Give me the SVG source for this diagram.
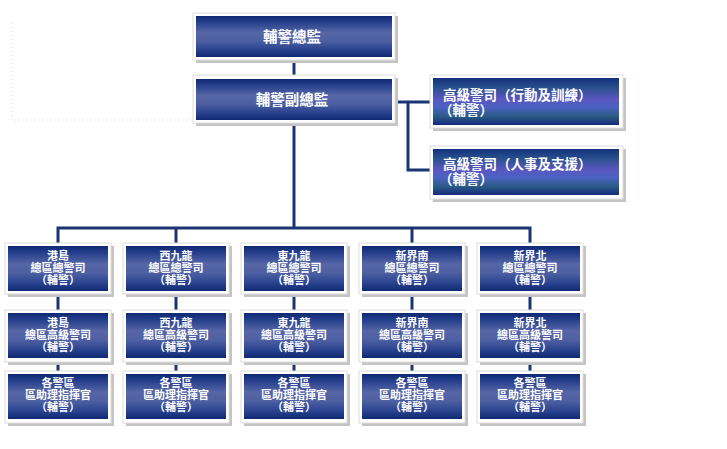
<svg xmlns="http://www.w3.org/2000/svg" width="727" height="449" viewBox="0 0 727 449">
<defs>
<linearGradient id="gBlue" x1="0" y1="0" x2="0" y2="1">
<stop offset="0" stop-color="#0e2872"/>
<stop offset="0.12" stop-color="#1f3a88"/>
<stop offset="0.4" stop-color="#5666a6"/>
<stop offset="0.6" stop-color="#4e60a2"/>
<stop offset="0.82" stop-color="#2a438f"/>
<stop offset="1" stop-color="#0e2872"/>
</linearGradient>
<linearGradient id="gPurple" x1="0" y1="0" x2="0" y2="1">
<stop offset="0" stop-color="#14307e"/>
<stop offset="0.2" stop-color="#28508c"/>
<stop offset="0.45" stop-color="#5a56c0"/>
<stop offset="0.62" stop-color="#4a62c2"/>
<stop offset="0.82" stop-color="#2a5a84"/>
<stop offset="1" stop-color="#142a7e"/>
</linearGradient>
<style>
.sh{fill:#c4c4c4;}
.fr{fill:#ffffff;stroke:#dcdcdc;stroke-width:1;}
.in{fill:url(#gBlue);}
.inp{fill:url(#gPurple);}
.t{font-family:"Liberation Sans","Noto Sans CJK TC",sans-serif;font-weight:bold;fill:#ffffff;}
.big{font-size:14.5px;text-anchor:middle;}
.mid{font-size:13.5px;}
.sm{font-size:11px;text-anchor:middle;}
.c{fill:none;stroke:#1b3474;stroke-width:3;}
.dot{fill:none;stroke-width:1;stroke-dasharray:1 3;}
</style>
</defs>
<rect width="727" height="449" fill="#ffffff"/>
<g id="faint">
<path class="dot" d="M12,23 V120 H193" stroke="#e2d4e2"/>
<path class="dot" d="M638,77 V198" stroke="#f2f0c8"/>
<path class="dot" d="M432,200 H620" stroke="#c8ecc0"/>
</g>
<g id="connectors">
<path class="c" d="M294,60 V75"/>
<path class="c" d="M294,123 V228"/>
<path class="c" d="M395,102 H430"/>
<path class="c" d="M408,102 V170 H430"/>
<path class="c" d="M58,243 V228 H530 V243"/>
<path class="c" d="M176,228 V243 M412,228 V243"/>
<path class="c" d="M58,294 V310 M176,294 V310 M294,294 V310 M412,294 V310 M530,294 V310"/>
<path class="c" d="M58,362 V371 M176,362 V371 M294,362 V371 M412,362 V371 M530,362 V371"/>
</g>
<g id="n-chief">
<rect class="sh" x="196" y="16" width="202" height="47"/>
<rect class="fr" x="193" y="13" width="202" height="47"/>
<rect class="in" x="196" y="16" width="196" height="41"/>
<text class="t big" x="292" y="42">輔警總監</text>
</g>
<g id="n-deputy">
<rect class="sh" x="196" y="78" width="202" height="48"/>
<rect class="fr" x="193" y="75" width="202" height="48"/>
<rect class="in" x="196" y="79" width="196" height="41"/>
<text class="t big" x="292" y="105">輔警副總監</text>
</g>
<g id="n-ops">
<rect class="sh" x="433" y="78" width="193" height="53"/>
<rect class="fr" x="430" y="75" width="193" height="53"/>
<rect class="inp" x="433" y="78" width="186" height="47"/>
<text class="t mid" x="443" y="100">高級警司（行動及訓練）</text>
<text class="t mid" x="439" y="115">（輔警）</text>
</g>
<g id="n-pers">
<rect class="sh" x="433" y="149" width="193" height="53"/>
<rect class="fr" x="430" y="146" width="193" height="53"/>
<rect class="inp" x="433" y="149" width="186" height="46"/>
<text class="t mid" x="443" y="169">高級警司（人事及支援）</text>
<text class="t mid" x="439" y="184">（輔警）</text>
</g>
<g id="n-hki-1">
<rect class="sh" x="8" y="246" width="106" height="51"/><rect class="fr" x="5" y="243" width="106" height="51"/><rect class="in" x="8" y="246" width="100" height="45"/>
<text class="t sm" x="58" y="260">港島</text><text class="t sm" x="58" y="272">總區總警司</text><text class="t sm" x="58" y="284">（輔警）</text>
</g>
<g id="n-kw-1">
<rect class="sh" x="126" y="246" width="106" height="51"/><rect class="fr" x="123" y="243" width="106" height="51"/><rect class="in" x="126" y="246" width="100" height="45"/>
<text class="t sm" x="176" y="260">西九龍</text><text class="t sm" x="176" y="272">總區總警司</text><text class="t sm" x="176" y="284">（輔警）</text>
</g>
<g id="n-ke-1">
<rect class="sh" x="244" y="246" width="106" height="51"/><rect class="fr" x="241" y="243" width="106" height="51"/><rect class="in" x="244" y="246" width="100" height="45"/>
<text class="t sm" x="294" y="260">東九龍</text><text class="t sm" x="294" y="272">總區總警司</text><text class="t sm" x="294" y="284">（輔警）</text>
</g>
<g id="n-nts-1">
<rect class="sh" x="362" y="246" width="106" height="51"/><rect class="fr" x="359" y="243" width="106" height="51"/><rect class="in" x="362" y="246" width="100" height="45"/>
<text class="t sm" x="412" y="260">新界南</text><text class="t sm" x="412" y="272">總區總警司</text><text class="t sm" x="412" y="284">（輔警）</text>
</g>
<g id="n-ntn-1">
<rect class="sh" x="480" y="246" width="106" height="51"/><rect class="fr" x="477" y="243" width="106" height="51"/><rect class="in" x="480" y="246" width="100" height="45"/>
<text class="t sm" x="530" y="260">新界北</text><text class="t sm" x="530" y="272">總區總警司</text><text class="t sm" x="530" y="284">（輔警）</text>
</g>
<g id="n-hki-2">
<rect class="sh" x="8" y="313" width="106" height="52"/><rect class="fr" x="5" y="310" width="106" height="52"/><rect class="in" x="8" y="313" width="100" height="45"/>
<text class="t sm" x="58" y="327">港島</text><text class="t sm" x="58" y="339">總區高級警司</text><text class="t sm" x="58" y="351">（輔警）</text>
</g>
<g id="n-kw-2">
<rect class="sh" x="126" y="313" width="106" height="52"/><rect class="fr" x="123" y="310" width="106" height="52"/><rect class="in" x="126" y="313" width="100" height="45"/>
<text class="t sm" x="176" y="327">西九龍</text><text class="t sm" x="176" y="339">總區高級警司</text><text class="t sm" x="176" y="351">（輔警）</text>
</g>
<g id="n-ke-2">
<rect class="sh" x="244" y="313" width="106" height="52"/><rect class="fr" x="241" y="310" width="106" height="52"/><rect class="in" x="244" y="313" width="100" height="45"/>
<text class="t sm" x="294" y="327">東九龍</text><text class="t sm" x="294" y="339">總區高級警司</text><text class="t sm" x="294" y="351">（輔警）</text>
</g>
<g id="n-nts-2">
<rect class="sh" x="362" y="313" width="106" height="52"/><rect class="fr" x="359" y="310" width="106" height="52"/><rect class="in" x="362" y="313" width="100" height="45"/>
<text class="t sm" x="412" y="327">新界南</text><text class="t sm" x="412" y="339">總區高級警司</text><text class="t sm" x="412" y="351">（輔警）</text>
</g>
<g id="n-ntn-2">
<rect class="sh" x="480" y="313" width="106" height="52"/><rect class="fr" x="477" y="310" width="106" height="52"/><rect class="in" x="480" y="313" width="100" height="45"/>
<text class="t sm" x="530" y="327">新界北</text><text class="t sm" x="530" y="339">總區高級警司</text><text class="t sm" x="530" y="351">（輔警）</text>
</g>
<g id="n-hki-3">
<rect class="sh" x="8" y="374" width="106" height="52"/><rect class="fr" x="5" y="371" width="106" height="52"/><rect class="in" x="8" y="374" width="100" height="45"/>
<text class="t sm" x="58" y="387">各警區</text><text class="t sm" x="58" y="399">區助理指揮官</text><text class="t sm" x="58" y="411">（輔警）</text>
</g>
<g id="n-kw-3">
<rect class="sh" x="126" y="374" width="106" height="52"/><rect class="fr" x="123" y="371" width="106" height="52"/><rect class="in" x="126" y="374" width="100" height="45"/>
<text class="t sm" x="176" y="387">各警區</text><text class="t sm" x="176" y="399">區助理指揮官</text><text class="t sm" x="176" y="411">（輔警）</text>
</g>
<g id="n-ke-3">
<rect class="sh" x="244" y="374" width="106" height="52"/><rect class="fr" x="241" y="371" width="106" height="52"/><rect class="in" x="244" y="374" width="100" height="45"/>
<text class="t sm" x="294" y="387">各警區</text><text class="t sm" x="294" y="399">區助理指揮官</text><text class="t sm" x="294" y="411">（輔警）</text>
</g>
<g id="n-nts-3">
<rect class="sh" x="362" y="374" width="106" height="52"/><rect class="fr" x="359" y="371" width="106" height="52"/><rect class="in" x="362" y="374" width="100" height="45"/>
<text class="t sm" x="412" y="387">各警區</text><text class="t sm" x="412" y="399">區助理指揮官</text><text class="t sm" x="412" y="411">（輔警）</text>
</g>
<g id="n-ntn-3">
<rect class="sh" x="480" y="374" width="106" height="52"/><rect class="fr" x="477" y="371" width="106" height="52"/><rect class="in" x="480" y="374" width="100" height="45"/>
<text class="t sm" x="530" y="387">各警區</text><text class="t sm" x="530" y="399">區助理指揮官</text><text class="t sm" x="530" y="411">（輔警）</text>
</g>
</svg>
